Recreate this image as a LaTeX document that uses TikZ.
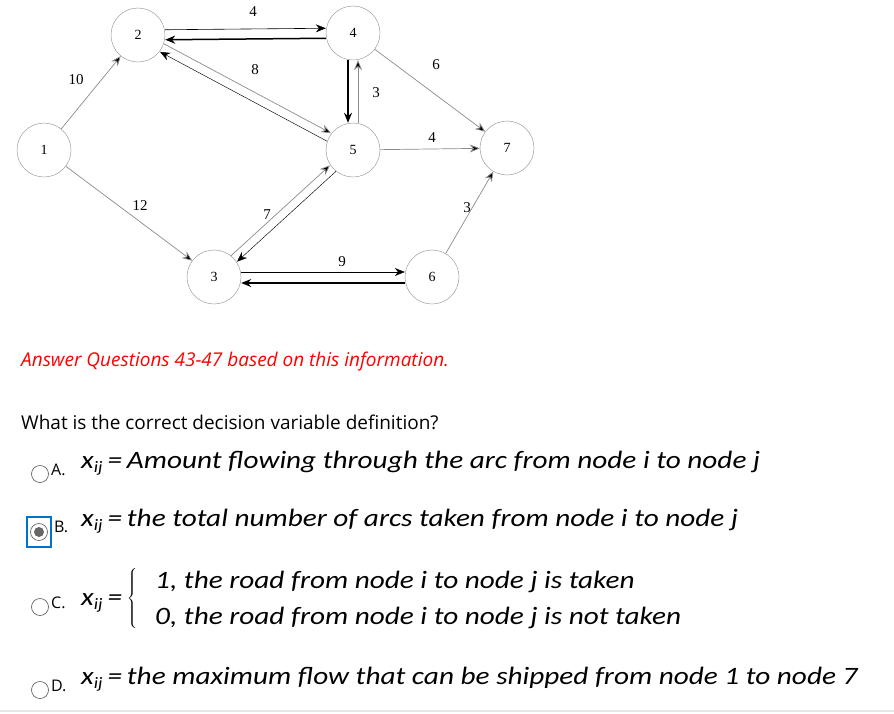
\documentclass[tikz,border=0pt]{standalone}
\usepackage{fontspec}
\usepackage{graphicx}
\setmainfont{Liberation Serif}
\newfontfamily\osans{Open Sans}
\newfontfamily\carl{Carlito}
\usetikzlibrary{arrows.meta}
\newcommand{\xij}{x\raisebox{-4pt}{\fontsize{16}{16}\selectfont ij}\,=\,}
\newcommand{\wide}[1]{\scalebox{1.17}[1]{#1}}
\begin{document}
\begin{tikzpicture}[x=1pt,y=-1pt,
  vtx/.style={circle,draw=black!45,fill=white,minimum size=54pt,inner sep=0pt,font=\fontsize{14}{14}\selectfont},
  lg/.style={draw=black!45,line width=0.7pt,-{Stealth[length=10pt,width=8pt,fill=black]}},
  lb/.style={draw=black,line width=0.6pt,-{Stealth[length=10pt,width=8pt]}},
  lk/.style={draw=black,line width=1.5pt,-{Stealth[length=10pt,width=8pt]}},
  wt/.style={font=\fontsize{15}{15}\selectfont,inner sep=0pt},
  radio/.style={circle,draw=black!60,line width=0.7pt,minimum size=17pt,inner sep=0pt},
  opt/.style={anchor=west,inner sep=0pt,font=\osans\fontsize{19}{19}\selectfont},
  lett/.style={anchor=west,inner sep=0pt,font=\osans\fontsize{16}{16}\selectfont},
  frm/.style={anchor=west,inner sep=0pt,font=\carl\itshape\fontsize{25}{25}\selectfont}]
\useasboundingbox (0,0) rectangle (894,713);
\fill[white] (0,0) rectangle (894,713);
\node[vtx] (n1) at (44,150) {1};
\node[vtx] (n2) at (138,35) {2};
\node[vtx] (n4) at (353,33) {4};
\node[vtx] (n5) at (353,150) {5};
\node[vtx] (n7) at (507,148) {7};
\node[vtx] (n3) at (214,277) {3};
\node[vtx] (n6) at (432,277) {6};
\draw[lg] (n1) -- (n2);
\node[wt] (w12) at (76,80) {10};
\draw[lg] (n1) -- (n3);
\node[wt] (w13) at (140,206) {12};
\draw[lb,transform canvas={yshift=5pt}] (n2) -- (n4);
\draw[lk,transform canvas={yshift=-5pt}] (n4) -- (n2);
\node[wt] (w24) at (253,12) {4};
\draw[lg,transform canvas={xshift=2pt,yshift=4pt}] (n2) -- (n5);
\draw[lb,line width=0.45pt,transform canvas={xshift=-2pt,yshift=-4pt}] (n5) -- (n2);
\node[wt] (w25) at (255,70) {8};
\draw[lk,transform canvas={xshift=-5pt}] (n4) -- (n5);
\draw[lg,transform canvas={xshift=5pt}] (n5) -- (n4);
\node[wt] (w45) at (376,93) {3};
\draw[lg] (n4) -- (n7);
\node[wt] (w47) at (436,65) {6};
\draw[lg] (n5) -- (n7);
\node[wt] (w57) at (432,138) {4};
\draw[lg,transform canvas={xshift=-3pt,yshift=3pt}] (n3) -- (n5);
\draw[lb,line width=0.45pt,transform canvas={xshift=3pt,yshift=-3pt}] (n5) -- (n3);
\node[wt] (w35) at (267,215) {7};
\draw[lb,transform canvas={yshift=5pt}] (n3) -- (n6);
\draw[lk,transform canvas={yshift=-6pt}] (n6) -- (n3);
\node[wt] (w36) at (342,262) {9};
\draw[lg] (n6) -- (n7);
\node[wt] (w67) at (467,208) {3};
\node[anchor=west,inner sep=0pt,text=red,font=\osans\itshape\fontsize{19}{19}\selectfont] (ans) at (21,362) {Answer Questions 43-47 based on this information.};
\node[opt] (q) at (21,422) {What is the correct decision variable definition?};
\node[radio] (ra) at (40,474) {};
\node[lett] (la) at (51,470) {A.};
\node[frm] (fa) at (81,463) {\wide{\xij Amount flowing through the arc from node i to node j}};
\draw[draw={rgb,255:red,0;green,114;blue,198},line width=2.5pt] (27,517) rectangle (51,547);
\node[radio] (rb) at (39,532) {};
\fill[black!60] (rb) circle (5pt);
\node[lett] (lb) at (54,527) {B.};
\node[frm] (fb) at (81,521) {\wide{\xij the total number of arcs taken from node i to node j}};
\node[radio] (rc) at (40,607) {};
\node[lett] (lc) at (51,603) {C.};
\node[frm] (fc) at (81,598) {\wide{\xij$\left\{\vbox to 38pt{}\right.$}};
\node[frm] (fc1) at (155,582) {\wide{1, the road from node i to node j is taken}};
\node[frm] (fc2) at (155,618) {\wide{0, the road from node i to node j is not taken}};
\node[radio] (rd) at (40,690) {};
\node[lett] (ld) at (51,686) {D.};
\node[frm] (fd) at (81,679) {\wide{\xij the maximum flow that can be shipped from node 1 to node 7}};
\draw[black!10,line width=2pt] (0,711) -- (894,711);
\end{tikzpicture}
\end{document}
